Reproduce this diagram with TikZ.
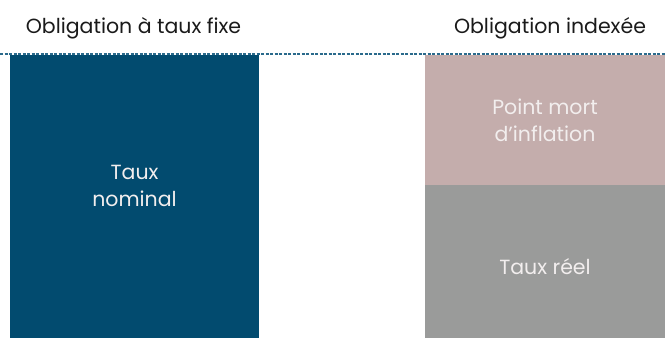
\documentclass[tikz,border=0pt]{standalone}
\usepackage{fontspec}
\setmainfont{Poppins}
\definecolor{bleu}{HTML}{024B6F}
\definecolor{rose}{HTML}{C4ADAC}
\definecolor{gris}{HTML}{9A9B9A}
\definecolor{tiret}{HTML}{2A6A8C}
\definecolor{blanc}{HTML}{F2EEEE}
\definecolor{texte}{HTML}{1A1A1A}

\begin{document}
\begin{tikzpicture}[x=1pt, y=1pt,
    bloc/.style={rectangle, minimum width=#1, inner sep=0pt, outer sep=0pt},
    etiquette/.style={text=blanc, align=center, font=\fontsize{20.5}{27}\selectfont},
    titre/.style={text=texte, font=\fontsize{20.5}{24}\selectfont}]
    \useasboundingbox (0,0) rectangle (665,338);

    % blocs
    \node[bloc=249pt, minimum height=283pt, fill=bleu] (nominal) at (134.5, 141.5) {};
    \node[bloc=240pt, minimum height=130pt, fill=rose] (pointmort) at (545, 218) {};
    \node[bloc=240pt, minimum height=153pt, fill=gris] (reel) at (545, 76.5) {};

    % textes des blocs
    \node[etiquette] (nominaltxt) at (134.5, 152) {Taux\\nominal};
    \node[etiquette] (pointmorttxt) at (545, 217.5) {Point mort\\d’inflation};
    \node[etiquette] (reeltxt) at (545, 71) {Taux réel};

    % titres
    \node[titre] (fixe) at (133.5, 310) {Obligation à taux fixe};
    \node[titre] (indexee) at (550, 310) {Obligation indexée};

    % ligne pointillée
    \coordinate (gauche) at (0, 284);
    \coordinate (droite) at (665, 284);
    \draw[tiret, line width=1.3pt, dash pattern=on 3pt off 1.5pt] (gauche) -- (droite);
\end{tikzpicture}
\end{document}
